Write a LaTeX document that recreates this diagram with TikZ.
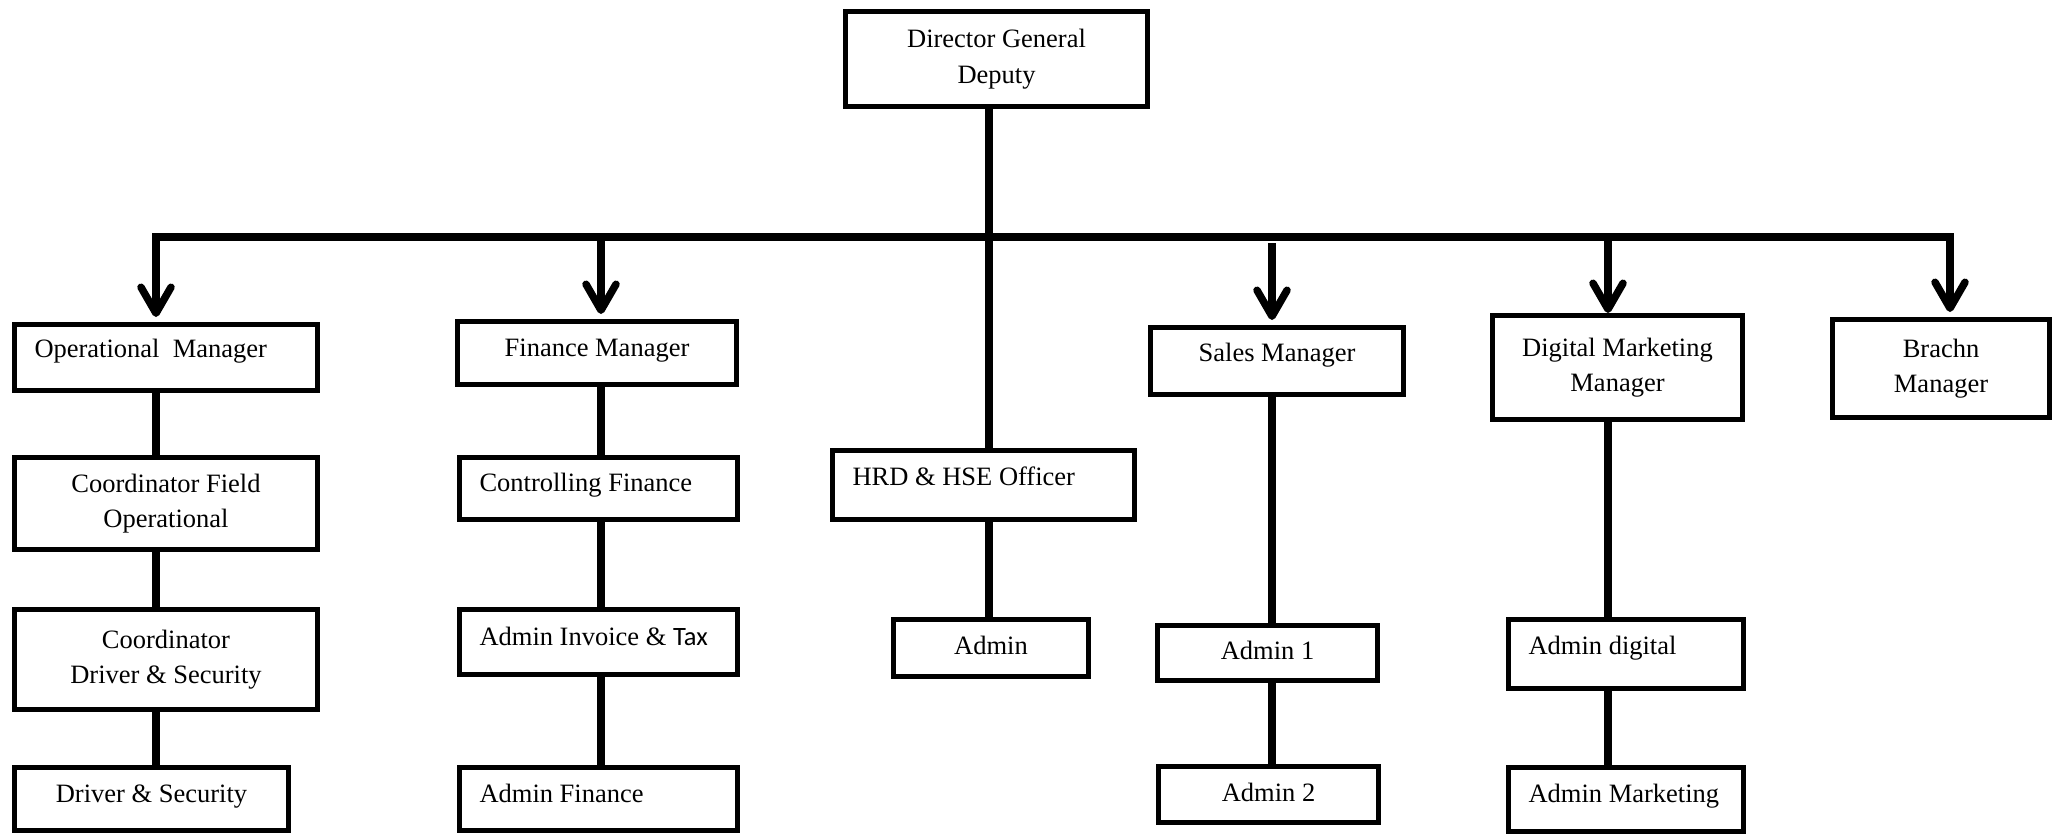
\documentclass[tikz,border=0pt]{standalone}
\usepackage{fontspec}
\setmainfont{Liberation Serif}
\newfontfamily\taxfont{Carlito}
\usetikzlibrary{arrows.meta}
\newcommand{\chartfont}{\fontsize{26.5pt}{35.5pt}\selectfont}
\tikzset{orgbox/.style={draw, line width=5pt, inner sep=0pt, font=\chartfont, align=center}}
\tikzset{oneline/.style={text height=18.5pt, text depth=#1}, oneline/.default=12pt}
\tikzset{lefttext/.style={align=flush left, inner xsep=20pt, text width=#1}}
\tikzset{link/.style={line width=7.5pt}}
\tikzset{droparrow/.style={link, shorten >=5pt, -{Straight Barb[length=26pt, width=30pt, round]}}}

\begin{document}
\begin{tikzpicture}[x=1pt, y=-1pt]
\useasboundingbox (0,0) rectangle (2061,835);

% top
\node[orgbox, minimum width=302pt, minimum height=95pt] (dir) at (996.5,59) {Director General\\Deputy};

% managers
\node[orgbox, oneline=18.5pt, lefttext=263pt, minimum width=303pt, minimum height=66pt] (opm) at (166,357.5) {Operational~~Manager};
\node[orgbox, oneline, minimum width=279pt, minimum height=63pt] (fin) at (597,353) {Finance Manager};
\node[orgbox, oneline=18.5pt, minimum width=253pt, minimum height=67pt] (sal) at (1277,361) {Sales Manager};
\node[orgbox, minimum width=250pt, minimum height=104pt] (dmk) at (1617.5,367.5) {Digital Marketing\\Manager};
\node[orgbox, minimum width=217pt, minimum height=98pt] (brm) at (1941,368.5) {Brachn\\Manager};

% operational column
\node[orgbox, minimum width=303pt, minimum height=92pt] (cfo) at (166,503.5) {Coordinator Field\\Operational};
\node[orgbox, minimum width=303pt, minimum height=100pt] (cds) at (166,659.5) {Coordinator\\Driver \& Security};
\node[orgbox, oneline, minimum width=274pt, minimum height=63pt] (drs) at (151.5,799) {Driver \& Security};

% finance column
\node[orgbox, oneline, lefttext=238pt, minimum width=278pt, minimum height=62pt] (ctf) at (598.5,488.5) {Controlling Finance};
\node[orgbox, oneline, lefttext=238pt, minimum width=278pt, minimum height=65pt] (ait) at (598.5,642) {Admin Invoice \& {\taxfont Tax}};
\node[orgbox, oneline, lefttext=238pt, minimum width=278pt, minimum height=63pt] (afi) at (598.5,799) {Admin Finance};

% hrd column
\node[orgbox, oneline=18.5pt, lefttext=262pt, minimum width=302pt, minimum height=69pt] (hrd) at (983.5,485) {HRD \& HSE Officer};
\node[orgbox, oneline=5.5pt, minimum width=195pt, minimum height=57pt] (adm) at (991,648) {Admin};

% sales column
\node[orgbox, oneline=5.5pt, minimum width=220pt, minimum height=55pt] (ad1) at (1267.5,653) {Admin 1};
\node[orgbox, oneline=5.5pt, minimum width=220pt, minimum height=56pt] (ad2) at (1268.5,794.5) {Admin 2};

% marketing column
\node[orgbox, oneline=18.5pt, lefttext=195pt, minimum width=235pt, minimum height=69pt] (adg) at (1626,654) {Admin digital};
\node[orgbox, oneline, lefttext=195pt, minimum width=235pt, minimum height=64pt] (amk) at (1626,799.5) {Admin Marketing};

% bus
\coordinate (k1) at (156,237);
\coordinate (k2) at (601,237);
\coordinate (k3) at (989,237);
\coordinate (k4) at (1272,237);
\coordinate (k5) at (1608,237);
\coordinate (k6) at (1950,237);
\draw[link, line cap=rect] (k1) -- (k6);
\draw[link] (dir.south -| k3) -- (hrd.north -| k3);

\draw[droparrow] (k1) -- (k1 |- opm.north);
\draw[droparrow] (k2) -- (k2 |- fin.north);
\draw[droparrow, shorten <=6pt] (k4) -- (k4 |- sal.north);
\draw[droparrow, shorten >=0pt] (k5) -- (k5 |- dmk.north);
\draw[droparrow] (k6) -- (k6 |- brm.north);

% columns
\draw[link] (opm.south -| k1) -- (cfo.north -| k1);
\draw[link] (cfo.south -| k1) -- (cds.north -| k1);
\draw[link] (cds.south -| k1) -- (drs.north -| k1);
\draw[link] (fin.south -| k2) -- (ctf.north -| k2);
\draw[link] (ctf.south -| k2) -- (ait.north -| k2);
\draw[link] (ait.south -| k2) -- (afi.north -| k2);
\draw[link] (hrd.south -| k3) -- (adm.north -| k3);
\draw[link] (sal.south -| k4) -- (ad1.north -| k4);
\draw[link] (ad1.south -| k4) -- (ad2.north -| k4);
\draw[link] (dmk.south -| k5) -- (adg.north -| k5);
\draw[link] (adg.south -| k5) -- (amk.north -| k5);

\end{tikzpicture}
\end{document}
